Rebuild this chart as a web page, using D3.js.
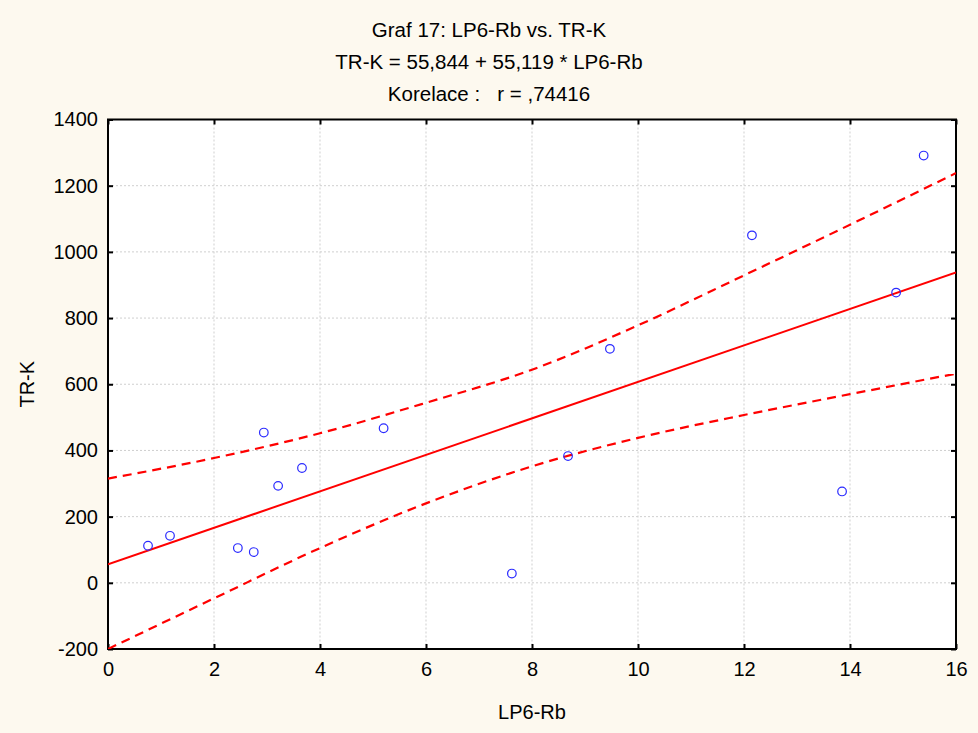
<!DOCTYPE html>
<html>
<head>
<meta charset="utf-8">
<script src="https://cdn.jsdelivr.net/npm/d3@7"></script>
<style>
  body { margin: 0; background: #fdf9ef; }
  svg { display: block; font-family: "Liberation Sans", Arial, sans-serif; }
</style>
</head>
<body>
<div class="chart"></div>
<script>
const width = 978;
const height = 733;

// scatter data
const lp6Rb = [0.755, 1.17, 2.45, 2.75, 2.94, 3.21, 3.66, 5.20, 7.62, 8.68, 9.47, 12.15, 13.85, 14.87, 15.39];
const trK = [112, 142, 105, 93, 454, 293, 347, 467, 28, 383, 707, 1050, 276, 877, 1291];

// regression from the chart title
const intercept = 55.844;
const slope = 55.119;

// 95% confidence band
const bandX = [0, 2, 4, 6, 8, 10, 12, 14, 16];
const bandUpper = [315, 377, 452, 544, 644, 778, 929, 1082, 1238];
const bandLower = [-200, -47, 105, 240, 352, 438, 507, 570, 632];

const xTicks = [0, 2, 4, 6, 8, 10, 12, 14, 16];
const yTicks = [-200, 0, 200, 400, 600, 800, 1000, 1200, 1400];

const margin = {top: 119.5, right: 22, bottom: 84, left: 108};

let svg = d3.select(".chart")
    .append("svg")
    .attr("width", width)
    .attr("height", height);

svg.append("rect").attr("width", width).attr("height", height).attr("fill", "#fdf9ef");

let x = d3.scaleLinear().domain([0, 16]).range([margin.left, width - margin.right]);
let y = d3.scaleLinear().domain([-200, 1400]).range([height - margin.bottom, margin.top]);

// plot background
svg.append("rect")
    .attr("x", x(0)).attr("y", y(1400))
    .attr("width", x(16) - x(0)).attr("height", y(-200) - y(1400))
    .attr("fill", "#fff");

// grid
svg.append("g").selectAll("line")
    .data(xTicks.slice(1, -1))
    .enter().append("line")
    .attr("x1", d => x(d)).attr("x2", d => x(d))
    .attr("y1", y(1400)).attr("y2", y(-200))
    .attr("stroke", "#cfcfcf").attr("stroke-dasharray", "2,2");

svg.append("g").selectAll("line")
    .data(yTicks.slice(1, -1))
    .enter().append("line")
    .attr("y1", d => y(d)).attr("y2", d => y(d))
    .attr("x1", x(0)).attr("x2", x(16))
    .attr("stroke", "#cfcfcf").attr("stroke-dasharray", "2,2");

// axes, ticks pointing inwards on all four sides
const fmt = d => String(d);
svg.append("g")
    .attr("transform", `translate(0,${y(-200)})`)
    .call(d3.axisBottom(x).tickValues(xTicks).tickSize(-5).tickPadding(13).tickFormat(fmt));
svg.append("g")
    .attr("transform", `translate(0,${y(1400)})`)
    .call(d3.axisTop(x).tickValues(xTicks).tickSize(-5).tickFormat(""));
svg.append("g")
    .attr("transform", `translate(${x(0)},0)`)
    .call(d3.axisLeft(y).tickValues(yTicks).tickSize(-5).tickPadding(10).tickFormat(fmt));
svg.append("g")
    .attr("transform", `translate(${x(16)},0)`)
    .call(d3.axisRight(y).tickValues(yTicks).tickSize(-5).tickFormat(""));

svg.selectAll(".domain").remove();
svg.selectAll(".tick line").attr("stroke", "#000").attr("stroke-width", 2);
svg.selectAll(".tick text").attr("font-size", 20).attr("fill", "#000")
    .attr("font-family", "'Liberation Sans', Arial, sans-serif");

// frame
svg.append("rect")
    .attr("x", x(0)).attr("y", y(1400))
    .attr("width", x(16) - x(0)).attr("height", y(-200) - y(1400))
    .attr("fill", "none").attr("stroke", "#000").attr("stroke-width", 2);

svg.append("clipPath").attr("id", "clip")
    .append("rect")
    .attr("x", x(0)).attr("y", y(1400))
    .attr("width", x(16) - x(0)).attr("height", y(-200) - y(1400));

let plot = svg.append("g").attr("clip-path", "url(#clip)");

// regression line
plot.append("line")
    .attr("x1", x(0)).attr("y1", y(intercept))
    .attr("x2", x(16)).attr("y2", y(intercept + slope * 16))
    .attr("stroke", "#ff0000").attr("stroke-width", 2);

// confidence bands
let band = d3.line().curve(d3.curveMonotoneX);
[bandUpper, bandLower].forEach(vals => {
    plot.append("path")
        .attr("d", band(bandX.map((bx, i) => [x(bx), y(vals[i])])))
        .attr("fill", "none")
        .attr("stroke", "#ff0000")
        .attr("stroke-width", 2.2)
        .attr("stroke-dasharray", "9,6");
});

// points
svg.append("g").selectAll("circle")
    .data(lp6Rb.map((v, i) => ({x: v, y: trK[i]})))
    .enter().append("circle")
    .attr("cx", d => x(d.x))
    .attr("cy", d => y(d.y))
    .attr("r", 4.3)
    .attr("fill", "none")
    .attr("stroke", "#2b2bff")
    .attr("stroke-width", 1.2);

// titles
const titles = ["Graf 17: LP6-Rb vs. TR-K", "TR-K = 55,844 + 55,119 * LP6-Rb", "Korelace :   r = ,74416"];
svg.append("g").selectAll("text")
    .data(titles)
    .enter().append("text")
    .attr("x", 489)
    .attr("y", (d, i) => 37 + i * 32)
    .attr("text-anchor", "middle")
    .attr("font-size", 20.5)
    .style("white-space", "pre")
    .text(d => d);

svg.append("text")
    .attr("x", x(8))
    .attr("y", 719)
    .attr("text-anchor", "middle")
    .attr("font-size", 20)
    .text("LP6-Rb");

svg.append("text")
    .attr("transform", `translate(34,${y(600)}) rotate(-90)`)
    .attr("text-anchor", "middle")
    .attr("font-size", 20)
    .text("TR-K");
</script>
</body>
</html>
